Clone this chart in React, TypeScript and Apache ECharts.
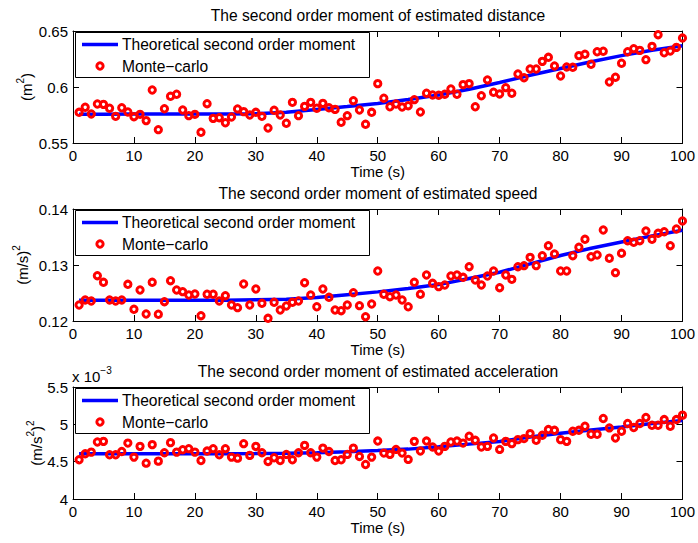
import React, { useEffect, useRef } from "react";
import * as echarts from "echarts";

const FONT = "'Liberation Sans', Arial, Helvetica, sans-serif";

// time steps (s)
const timeSteps: number[] = Array.from({ length: 100 }, (_, i) => i + 1);

// theoretical curves sampled at these instants
const theoryTimes = [1, 5, 10, 15, 20, 25, 30, 35, 40, 45, 50, 55, 60, 65, 70, 75, 80, 85, 90, 95, 100];

const distTheory = [0.5757, 0.5757, 0.5758, 0.5758, 0.5759, 0.576, 0.5762, 0.5775, 0.58, 0.5825, 0.5852, 0.5888, 0.5929, 0.598, 0.604, 0.6105, 0.6165, 0.6225, 0.628, 0.6328, 0.6369];
const speedTheory = [0.1237, 0.1237, 0.1237, 0.1237, 0.1237, 0.1237, 0.1238, 0.1239, 0.1242, 0.1247, 0.1252, 0.1258, 0.1265, 0.1276, 0.1287, 0.1302, 0.1317, 0.133, 0.1341, 0.1352, 0.1362];
// acceleration in units of 1e-3
const accTheory = [4.606, 4.606, 4.606, 4.606, 4.607, 4.607, 4.608, 4.612, 4.62, 4.633, 4.648, 4.668, 4.7, 4.735, 4.77, 4.83, 4.88, 4.925, 4.965, 5.01, 5.05];

const distMC = [
  0.5774, 0.5819, 0.5759, 0.5848, 0.5845, 0.581, 0.5738, 0.5815, 0.5777, 0.5735,
  0.5756, 0.57, 0.5973, 0.5619, 0.5806, 0.5917, 0.5935, 0.5795, 0.5744, 0.5756,
  0.5596, 0.5851, 0.572, 0.5726, 0.5681, 0.5732, 0.5804, 0.578, 0.575, 0.5774,
  0.5738, 0.5634, 0.5792, 0.575, 0.5676, 0.5863, 0.5744, 0.5827, 0.5863, 0.581,
  0.5854, 0.5815, 0.58, 0.5685, 0.5744, 0.5878, 0.5795, 0.5667, 0.5774, 0.603,
  0.59, 0.5824, 0.5848, 0.5821, 0.5833, 0.5887, 0.5777, 0.5944, 0.5929, 0.5926,
  0.5935, 0.5982, 0.5935, 0.6021, 0.603, 0.5824, 0.5922, 0.6063, 0.5953, 0.5938,
  0.5994, 0.5944, 0.6116, 0.6083, 0.6161, 0.6161, 0.6229, 0.6265, 0.6188, 0.6098,
  0.6179, 0.6176, 0.628, 0.6292, 0.6203, 0.6315, 0.6319, 0.6045, 0.6087, 0.6212,
  0.6315, 0.6342, 0.6327, 0.6244, 0.6363, 0.6467, 0.6306, 0.6321, 0.6354, 0.6437,
];

const speedMC = [
  0.12286, 0.12375, 0.12357, 0.12809, 0.12691, 0.12375, 0.12357, 0.12375, 0.12655, 0.12209,
  0.12554, 0.12125, 0.12691, 0.1212, 0.12345, 0.1272, 0.12554, 0.12524, 0.12464, 0.12482,
  0.12095, 0.12477, 0.12477, 0.12357, 0.12452, 0.12286, 0.12238, 0.1266, 0.12286, 0.12571,
  0.12316, 0.12048, 0.12334, 0.12196, 0.12268, 0.12334, 0.12357, 0.12684, 0.12464, 0.12255,
  0.12571, 0.12423, 0.12196, 0.12184, 0.12286, 0.12506, 0.12274, 0.12077, 0.12304, 0.12893,
  0.12477, 0.12434, 0.12464, 0.12375, 0.12255, 0.12691, 0.12477, 0.12821, 0.12673, 0.12613,
  0.12643, 0.12804, 0.12821, 0.1278, 0.1297, 0.12732, 0.12643, 0.12804, 0.12893, 0.12595,
  0.12821, 0.12744, 0.1297, 0.12988, 0.13137, 0.12988, 0.13166, 0.13345, 0.13196, 0.12893,
  0.12893, 0.13166, 0.13316, 0.13459, 0.13148, 0.13179, 0.13625, 0.1312, 0.12863, 0.13209,
  0.13434, 0.13405, 0.13434, 0.13607, 0.13459, 0.13566, 0.13595, 0.13345, 0.13643, 0.13786,
];

// in units of 1e-3
const accMC = [
  4.525, 4.606, 4.628, 4.763, 4.772, 4.593, 4.593, 4.637, 4.749, 4.561,
  4.705, 4.48, 4.728, 4.507, 4.62, 4.755, 4.628, 4.66, 4.674, 4.628,
  4.516, 4.642, 4.674, 4.593, 4.674, 4.561, 4.547, 4.741, 4.584, 4.705,
  4.62, 4.503, 4.553, 4.516, 4.597, 4.525, 4.62, 4.718, 4.62, 4.561,
  4.682, 4.637, 4.516, 4.525, 4.597, 4.682, 4.57, 4.462, 4.561, 4.776,
  4.615, 4.597, 4.664, 4.615, 4.53, 4.772, 4.642, 4.776, 4.696, 4.642,
  4.705, 4.763, 4.776, 4.749, 4.84, 4.786, 4.696, 4.705, 4.817, 4.664,
  4.772, 4.741, 4.795, 4.809, 4.876, 4.786, 4.853, 4.93, 4.92, 4.795,
  4.772, 4.907, 4.92, 4.974, 4.867, 4.867, 5.078, 4.952, 4.817, 4.907,
  5.011, 4.957, 5.011, 5.091, 4.988, 4.988, 5.064, 4.974, 5.064, 5.123,
];

const titles = [
  "The second order moment of estimated distance",
  "The second order moment of estimated speed",
  "The second order moment of estimated acceleration",
];
const xTicks = { min: 0, max: 100, interval: 10 };
const yRanges = [
  { min: 0.55, max: 0.65, interval: 0.05 },
  { min: 0.12, max: 0.14, interval: 0.01 },
  { min: 4, max: 5.5, interval: 0.5 },
];
const legendNames = ["Theoretical second order moment", "Monte\u2212carlo"];

const GRID_LEFT = 73;
const GRID_W = 610;
const GRID_TOPS = [31, 209, 387];
const GRID_H = 112;

export default function App() {
  const ref = useRef<HTMLDivElement>(null);
  useEffect(() => {
    if (!ref.current) return;
    const chart = echarts.init(ref.current, undefined, { renderer: "svg" });
    const theories = [distTheory, speedTheory, accTheory];
    const mcs = [distMC, speedMC, accMC];
    const textStyle = { color: "#000", fontSize: 15, fontFamily: FONT };
    const bigText = { color: "#000", fontSize: 15.6, fontFamily: FONT };

    const grid = GRID_TOPS.map((t) => ({ left: GRID_LEFT, top: t, width: GRID_W, height: GRID_H }));
    const axisCommon = {
      axisLine: { show: true, onZero: false, lineStyle: { color: "#000", width: 1 } },
      axisTick: { show: true, inside: true, length: 6, lineStyle: { color: "#000" } },
      splitLine: { show: false },
    };
    const xAxis: any[] = [];
    const yAxis: any[] = [];
    [0, 1, 2].forEach((i) => {
      xAxis.push({
        type: "value", gridIndex: i, position: "bottom", ...xTicks, ...axisCommon,
        axisLabel: { ...textStyle, margin: 5 },
        name: "Time (s)", nameLocation: "middle", nameGap: 21, nameTextStyle: textStyle,
      });
    });
    [0, 1, 2].forEach((i) => {
      xAxis.push({ type: "value", gridIndex: i, position: "top", ...xTicks, ...axisCommon, axisLabel: { show: false } });
    });
    [0, 1, 2].forEach((i) => {
      yAxis.push({ type: "value", gridIndex: i, position: "left", ...yRanges[i], ...axisCommon, axisLabel: { ...textStyle, margin: 5 } });
    });
    [0, 1, 2].forEach((i) => {
      yAxis.push({ type: "value", gridIndex: i, position: "right", ...yRanges[i], ...axisCommon, axisLabel: { show: false } });
    });

    const series: any[] = [];
    [0, 1, 2].forEach((i) => {
      series.push({
        type: "line", xAxisIndex: i, yAxisIndex: i, name: legendNames[0],
        data: theoryTimes.map((t, k) => [t, theories[i][k]]),
        showSymbol: false, symbol: "none", lineStyle: { color: "#0000ff", width: 3.5 }, z: 2,
      });
      series.push({
        type: "scatter", xAxisIndex: i, yAxisIndex: i, name: legendNames[1],
        data: timeSteps.map((t, k) => [t, mcs[i][k]]),
        symbol: "circle", symbolSize: 6.3,
        itemStyle: { color: "rgba(0,0,0,0)", borderColor: "#ff0000", borderWidth: 3, opacity: 1 },
        z: 3,
      });
    });

    const graphic: any[] = [];
    GRID_TOPS.forEach((gt) => {
      graphic.push({ type: "rect", shape: { x: 75.5, y: gt + 1.5, width: 294, height: 45 }, style: { fill: "#fff", stroke: "#000", lineWidth: 1 }, z: 10 });
      graphic.push({ type: "line", shape: { x1: 82, y1: gt + 13.5, x2: 118, y2: gt + 13.5 }, style: { stroke: "#0000ff", lineWidth: 3.5 }, z: 11 });
      graphic.push({ type: "circle", shape: { cx: 100, cy: gt + 35, r: 3.15 }, style: { fill: "none", stroke: "#ff0000", lineWidth: 3 }, z: 11 });
      graphic.push({ type: "text", x: 122, y: gt + 13.5, style: { text: legendNames[0], fill: "#000", font: `15.6px ${FONT}`, textVerticalAlign: "middle", verticalAlign: "middle" }, z: 11 });
      graphic.push({ type: "text", x: 122, y: gt + 35, style: { text: legendNames[1], fill: "#000", font: `15.6px ${FONT}`, textVerticalAlign: "middle", verticalAlign: "middle" }, z: 11 });
    });
    const rich = {
      n: { fontSize: 15, fontFamily: FONT, fill: "#000", color: "#000" },
      s: { fontSize: 10, fontFamily: FONT, fill: "#000", color: "#000", padding: [0, 0, 11, 0] },
    };
    const yNames = [
      { text: "{n|(m}{s|2}{n|)}", x: 26, y: 87 },
      { text: "{n|(m/s)}{s|2}", x: 22, y: 265 },
      { text: "{n|(m/s}{s|2}{n|)}{s|2}", x: 36, y: 443 },
    ];
    yNames.forEach((nm) => {
      graphic.push({
        type: "text", x: nm.x, y: nm.y, rotation: Math.PI / 2,
        style: { text: nm.text, rich, align: "center", verticalAlign: "middle", fill: "#000" },
      });
    });
    graphic.push({
      type: "text", x: 72, y: 376,
      style: { text: "{n|x 10}{s|\u22123}", rich, align: "left", verticalAlign: "middle", fill: "#000" },
    });

    chart.setOption({
      animation: false,
      backgroundColor: "#fff",
      title: titles.map((t, i) => ({
        text: t, left: GRID_LEFT + GRID_W / 2, top: GRID_TOPS[i] - 24, textAlign: "center", padding: 0,
        textStyle: { ...bigText, fontWeight: "normal" },
      })),
      grid, xAxis, yAxis, series, graphic,
    });
    return () => chart.dispose();
  }, []);
  return <div ref={ref} style={{ position: "fixed", left: 0, top: 0, width: 698, height: 543, background: "#fff" }} />;
}
